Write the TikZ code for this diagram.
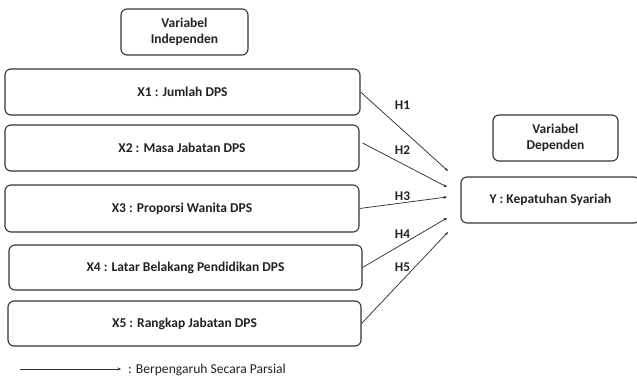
\documentclass[tikz,border=0pt]{standalone}
\usepackage{fontspec}
\setmainfont{Carlito}
\usetikzlibrary{arrows.meta,calc}
\definecolor{edge}{HTML}{333333}
\definecolor{ink}{HTML}{222222}
\begin{document}
\begin{tikzpicture}[x=1pt,y=-1pt,
  box/.style={draw=edge,line width=1.1pt,rounded corners=6pt,inner sep=0pt,text=ink,
    font=\fontsize{13.5}{16.5}\selectfont\bfseries,align=center},
  link/.style={draw=edge,line width=0.75pt,-{Stealth[length=3.5pt,width=3pt]}},
  hlab/.style={font=\fontsize{13.3}{14.5}\selectfont\bfseries,inner sep=0pt,text=ink}]
\useasboundingbox (0,0) rectangle (637,379);
\node[box,minimum width=127pt,minimum height=46pt] (vi) at (184.5,32) {Variabel\\Independen};
\node[box,minimum width=355pt,minimum height=46pt] (x1) at (182.5,92) {X1 : Jumlah DPS};
\node[box,minimum width=354pt,minimum height=46pt] (x2) at (182,148) {X2 : Masa Jabatan DPS};
\node[box,minimum width=354pt,minimum height=47pt] (x3) at (182,208.5) {X3 : Proporsi Wanita DPS};
\node[box,minimum width=353pt,minimum height=45pt] (x4) at (185.5,267.5) {X4 : Latar Belakang Pendidikan DPS};
\node[box,minimum width=353pt,minimum height=45pt] (x5) at (184.5,323.5) {X5 : Rangkap Jabatan DPS};
\node[box,minimum width=125pt,minimum height=46pt] (vd) at (555.5,138) {Variabel\\Dependen};
\node[box,minimum width=179pt,minimum height=46pt] (y) at (550.5,200) {Y : Kepatuhan Syariah};
\coordinate (e1) at (448,171);
\coordinate (e2) at (447,187);
\coordinate (e3) at (447,197);
\coordinate (e4) at (447,218);
\coordinate (e5) at (448,232);
\draw[link] (x1.east) -- (e1);
\draw[link] ($(x2.east)+(3,-5)$) -- (e2);
\draw[link] (x3.east) -- (e3);
\draw[link] (x4.east) -- (e4);
\draw[link] (x5.east) -- (e5);
\node[hlab] (h1) at (402.5,105) {H1};
\node[hlab] (h2) at (402.5,150) {H2};
\node[hlab] (h3) at (402.5,196) {H3};
\node[hlab] (h4) at (402.5,234) {H4};
\node[hlab] (h5) at (402.5,267) {H5};
\coordinate (la) at (20,369);
\coordinate (lb) at (121,369);
\draw[link] (la) -- (lb);
\node[anchor=west,inner sep=0pt,text=ink,font=\fontsize{13.6}{15}\selectfont] (lt) at (128,369.5) {: Berpengaruh Secara Parsial};
\end{tikzpicture}
\end{document}
